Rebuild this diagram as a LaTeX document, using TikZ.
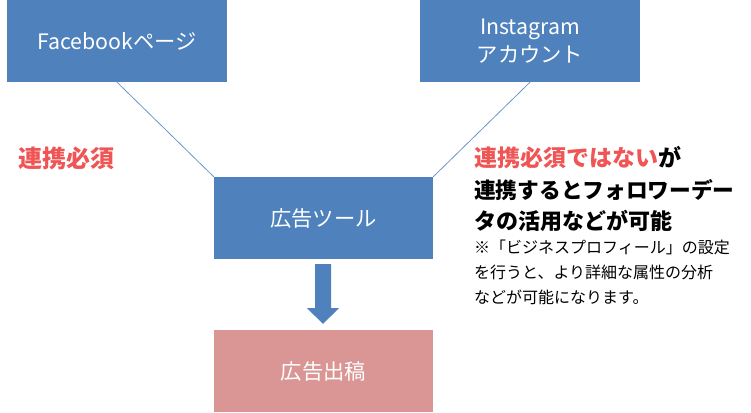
\documentclass[tikz,border=0pt]{standalone}
\usepackage{fontspec}
\setmainfont{Noto Sans CJK JP}
\usetikzlibrary{calc}
\definecolor{boxblue}{RGB}{79,129,189}
\definecolor{boxpink}{RGB}{217,150,148}
\definecolor{linkblue}{RGB}{110,150,200}
\definecolor{accred}{RGB}{240,85,85}
\begin{document}
\begin{tikzpicture}[x=1pt,y=-1pt,
  bluebox/.style={fill=boxblue,text=white,minimum width=220pt,minimum height=82pt,inner sep=0pt,align=center,font=\fontsize{21.3}{28}\selectfont},
  pinkbox/.style={bluebox,fill=boxpink},
  link/.style={draw=linkblue,line width=0.8pt},
  bigtxt/.style={anchor=west,inner sep=0pt,font=\fontsize{22}{26}\bfseries\selectfont},
  smalltxt/.style={anchor=west,inner sep=0pt,font=\fontsize{16}{20}\selectfont}]
\useasboundingbox (0,0) rectangle (751,412);
\node[bluebox] (fb) at (117,41) {Facebookページ};
\node[bluebox] (ig) at (530,41) {Instagram\\アカウント};
\node[bluebox,minimum width=219pt] (tool) at (323.5,218) {広告ツール};
\node[pinkbox,minimum width=219pt] (ad) at (323.5,371) {広告出稿};
\draw[link] (fb.south) -- (tool.north west);
\draw[link] (ig.south) -- (tool.north east);
\fill[boxblue] ($(tool.south)+(-8.5,5)$) -- ($(tool.south)+(7.5,5)$) -- ($(tool.south)+(7.5,49)$) -- ($(tool.south)+(15.5,49)$) -- ($(ad.north)+(-0.5,-6)$) -- ($(tool.south)+(-16.5,49)$) -- ($(tool.south)+(-8.5,49)$) -- cycle;
\node[bigtxt,text=accred,font=\fontsize{24}{28}\bfseries\selectfont] (req) at (18,158) {連携必須};
\node[bigtxt,font=\fontsize{23}{26}\bfseries\selectfont] (t1) at (474,158) {\textcolor{accred}{連携必須ではない}が};
\node[bigtxt,font=\fontsize{21.7}{26}\bfseries\selectfont] (t2) at (474,190) {連携するとフォロワーデー};
\node[bigtxt] (t3) at (474,221) {タの活用などが可能};
\node[smalltxt] (s1) at (474,247) {※「ビジネスプロフィール」の設定};
\node[smalltxt] (s2) at (474,272) {を行うと、より詳細な属性の分析};
\node[smalltxt] (s3) at (474,297) {などが可能になります。};
\end{tikzpicture}
\end{document}
